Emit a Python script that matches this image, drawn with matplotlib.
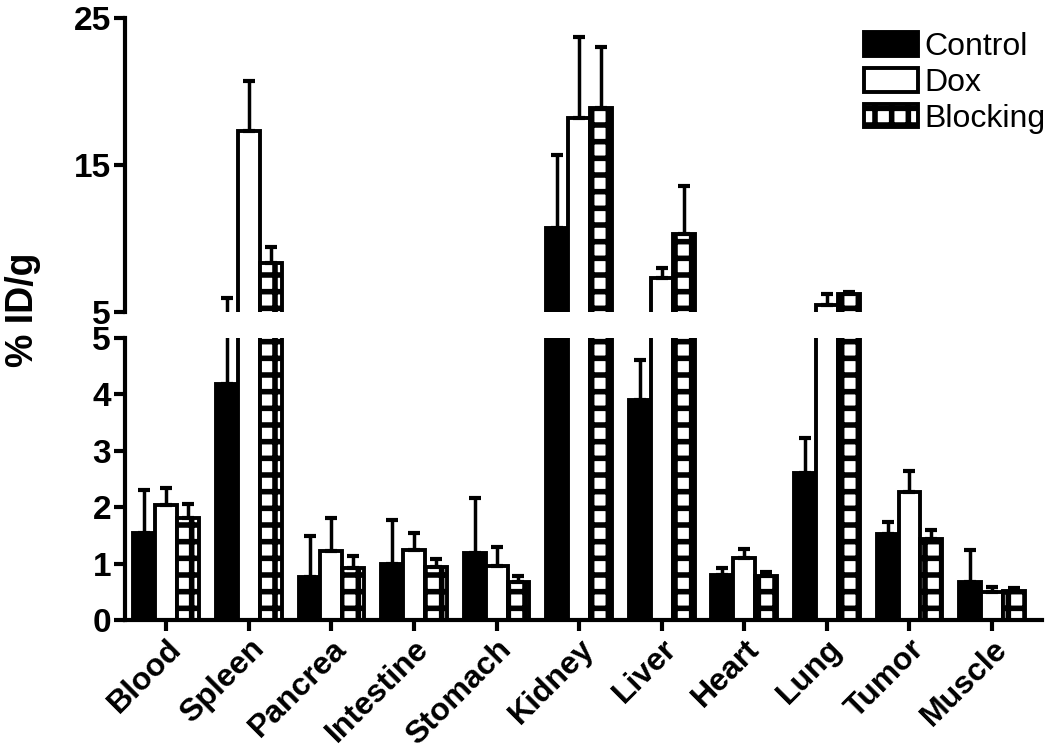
import numpy as np
import matplotlib
matplotlib.use('Agg')
import matplotlib.pyplot as plt

organs = ['Blood', 'Spleen', 'Pancrea', 'Intestine', 'Stomach', 'Kidney',
          'Liver', 'Heart', 'Lung', 'Tumor', 'Muscle']
groups = ['Control', 'Dox', 'Blocking']

# mean %ID/g
control = [1.55, 4.18, 0.77, 1.0, 1.18, 10.7, 3.9, 0.79, 2.6, 1.53, 0.68]
dox = [2.04, 17.3, 1.23, 1.25, 0.96, 18.2, 7.3, 1.1, 5.5, 2.27, 0.5]
blocking = [1.81, 8.3, 0.93, 0.94, 0.68, 18.9, 10.3, 0.78, 6.25, 1.44, 0.52]
# upper error (SD)
control_err = [0.75, 1.75, 0.72, 0.77, 0.98, 5.0, 0.72, 0.14, 0.62, 0.2, 0.56]
dox_err = [0.3, 3.4, 0.58, 0.29, 0.33, 5.5, 0.7, 0.16, 0.7, 0.37, 0.08]
blocking_err = [0.25, 1.1, 0.2, 0.15, 0.1, 4.1, 3.3, 0.08, 0.1, 0.15, 0.05]

plt.rcParams['font.family'] = ['Liberation Sans', 'DejaVu Sans']
plt.rcParams['hatch.linewidth'] = 4.0

fig = plt.figure(figsize=(10.5, 7.53), dpi=100)
ax_top = fig.add_axes([0.119, 0.5857, 0.873, 0.3903])
ax_bot = fig.add_axes([0.119, 0.1766, 0.873, 0.3744])

x = np.arange(len(organs))
w = 0.265
series = [(control, control_err, 'black', None),
          (dox, dox_err, 'white', None),
          (blocking, blocking_err, 'white', '+')]

for ax in (ax_top, ax_bot):
    for i, (vals, errs, fc, hatch) in enumerate(series):
        pos = x + (i - 1) * w
        ax.bar(pos, vals, width=w, color=fc, edgecolor='black', linewidth=2.8,
               hatch=hatch, label=groups[i], zorder=2)
        ax.errorbar(pos, vals, yerr=[np.zeros(len(vals)), errs], fmt='none',
                    ecolor='black', elinewidth=2.5, capsize=4.5, capthick=3, zorder=3)
    ax.set_xlim(-0.5, 10.6)
    for s in ('top', 'right'):
        ax.spines[s].set_visible(False)
    ax.spines['left'].set_linewidth(3)
    ax.spines['bottom'].set_linewidth(3)
    ax.tick_params(axis='both', width=3, length=8, labelsize=24, pad=2)

ax_top.set_ylim(5, 25)
ax_top.set_yticks([5, 15, 25])
ax_top.set_yticklabels(['5', '15', '25'], fontweight='bold')
ax_top.spines['bottom'].set_visible(False)
ax_top.set_xticks([])

ax_bot.set_ylim(0, 5)
ax_bot.set_yticks([0, 1, 2, 3, 4, 5])
ax_bot.set_yticklabels(['0', '1', '2', '3', '4', '5'], fontweight='bold')
ax_bot.set_xticks(x)
ax_bot.set_xticklabels(organs, rotation=45, ha='right', rotation_mode='anchor',
                       fontsize=23, fontweight='bold')

fig.text(0.022, 0.588, '% ID/g', rotation=90, fontsize=27, fontweight='bold',
         ha='center', va='center')

leg = ax_top.legend(loc='upper right', frameon=False, fontsize=23,
                    handlelength=1.7, handleheight=0.75, labelspacing=0.18,
                    handletextpad=0.2, borderaxespad=0.0,
                    bbox_to_anchor=(1.018, 0.995))

fig.savefig('out.png', dpi=100, facecolor='white')
